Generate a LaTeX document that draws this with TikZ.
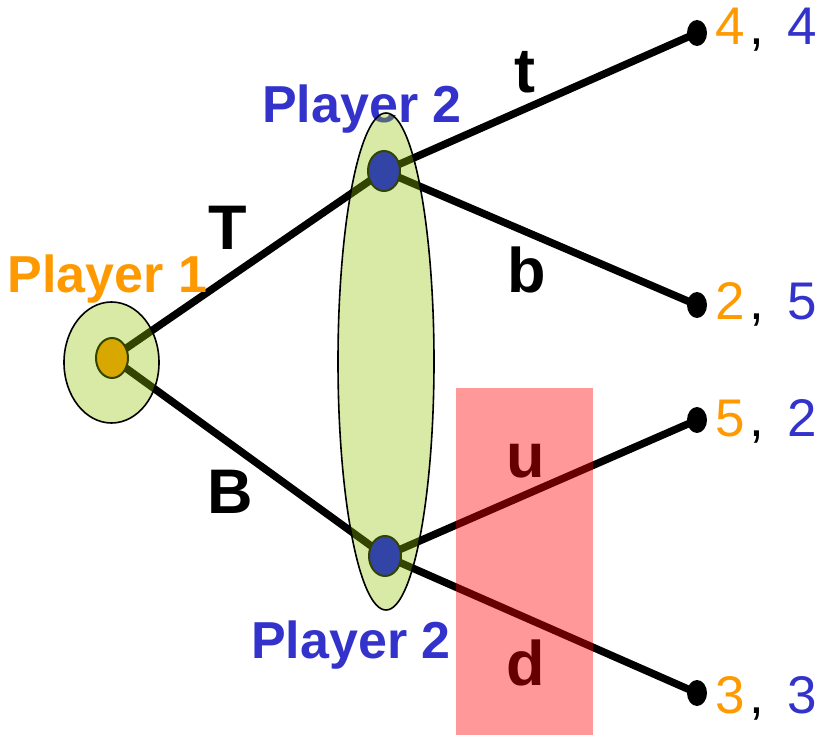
\documentclass[tikz,border=0pt]{standalone}
\usepackage{fontspec}
\setmainfont{Liberation Sans}
\usetikzlibrary{shapes.geometric}
\pgfdeclarelayer{edges}
\pgfsetlayers{edges,main}
\definecolor{porange}{RGB}{255,153,0}
\definecolor{pblue}{RGB}{51,51,204}
\definecolor{nblue}{RGB}{0,0,255}
\definecolor{setgreen}{RGB}{146,195,0}
\begin{document}
\begin{tikzpicture}[x=1pt,y=-1pt,
  edge/.style={line width=7.5pt},
  decnode/.style={ellipse,draw=black,line width=2pt,inner sep=0pt,minimum width=32pt,minimum height=40pt},
  leafdot/.style={ellipse,fill=black,inner sep=0pt,minimum width=20pt,minimum height=26pt},
  infoset/.style={fill=setgreen,fill opacity=0.35},
  infoline/.style={draw=black,line width=1.6pt},
  plab/.style={font=\fontsize{52}{52}\selectfont\bfseries,anchor=base,inner sep=0pt},
  elab/.style={font=\fontsize{63}{63}\selectfont\bfseries,anchor=base,inner sep=0pt},
  num/.style={font=\fontsize{53}{53}\selectfont,anchor=base,inner sep=0pt}
]
\useasboundingbox (0,0) rectangle (820,735);
% decision nodes
\node[decnode,fill=porange] (p1) at (112,358) {};
\node[decnode,fill=nblue] (p2a) at (384,171) {};
\node[decnode,fill=nblue] (p2b) at (385,556) {};
% leaves
\node[leafdot] (l1) at (697,33) {};
\node[leafdot] (l2) at (697,305) {};
\node[leafdot] (l3) at (697,420) {};
\node[leafdot] (l4) at (697,693) {};
% edges (behind nodes)
\begin{pgfonlayer}{edges}
\draw[edge] (p1.center) -- (p2a.center);
\draw[edge] (p1.center) -- (p2b.center);
\draw[edge] (p2a.center) -- (l1.center);
\draw[edge] (p2a.center) -- (l2.center);
\draw[edge] (p2b.center) -- (l3.center);
\draw[edge] (p2b.center) -- (l4.center);
\end{pgfonlayer}
% player labels
\node[plab,text=porange] (lp1) at (107.5,293) {Player 1};
\node[plab,text=pblue] (lp2a) at (362,123) {Player 2};
\node[plab,text=pblue] (lp2b) at (351,658) {Player 2};
% information sets
\fill[infoset] (111.5,362.5) ellipse [x radius=47.5, y radius=60.5];
\draw[infoline] (111.5,362.5) ellipse [x radius=47.5, y radius=60.5];
\fill[infoset] (386,361.5) ellipse [x radius=48, y radius=248.5];
\draw[infoline] (386,361.5) ellipse [x radius=48, y radius=248.5];
% edge labels
\node[elab] (eT) at (228,250) {T};
\node[elab] (eB) at (230,513) {B};
\node[elab] (et) at (525,93) {t};
\node[elab] (eb) at (527,293) {b};
\node[elab] (eu) at (526,477) {u};
\node[elab] (ed) at (526,685) {d};
% payoffs
\node[num,text=porange] (a1) at (730,45) {4};
\node[num] (c1) at (757,45) {,};
\node[num,text=pblue] (b1) at (802,45) {4};
\node[num,text=porange] (a2) at (730,320) {2};
\node[num] (c2) at (757,320) {,};
\node[num,text=pblue] (b2) at (802,320) {5};
\node[num,text=porange] (a3) at (730,437) {5};
\node[num] (c3) at (757,437) {,};
\node[num,text=pblue] (b3) at (802,437) {2};
\node[num,text=porange] (a4) at (730,713) {3};
\node[num] (c4) at (757,713) {,};
\node[num,text=pblue] (b4) at (802,713) {3};
% highlight box
\fill[red,fill opacity=0.4] (456,388) rectangle (593,735);
\end{tikzpicture}
\end{document}
